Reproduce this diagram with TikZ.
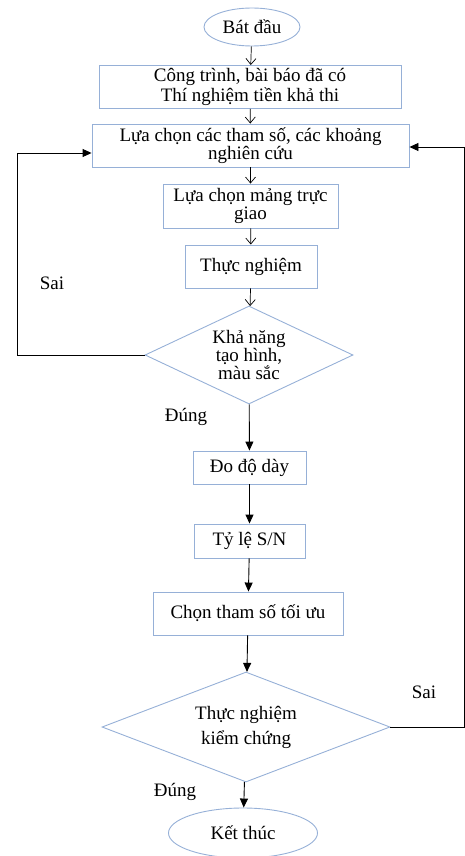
\documentclass[tikz,border=0pt]{standalone}
\usepackage{fontspec}
\setmainfont{Liberation Serif}
\usetikzlibrary{arrows.meta,positioning,shapes.geometric}
\definecolor{boxblue}{RGB}{150,176,215}

\begin{document}
\begin{tikzpicture}[
  x=1pt, y=-1pt,
  every node/.style={font=\fontsize{19}{18}\selectfont, align=center},
  box/.style={draw=boxblue, line width=0.9pt, fill=white, inner sep=2pt},
  term/.style={draw=boxblue, line width=0.9pt, ellipse, inner sep=0pt},
  test/.style={draw=boxblue, line width=0.9pt, diamond, inner sep=0pt},
  open/.style={-{Straight Barb[length=6pt,width=10pt]}, line width=0.7pt},
  solid/.style={-{Triangle[length=9pt,width=8pt]}, line width=0.9pt},
  >=Stealth
]
\useasboundingbox (0,0) rectangle (465,856);
\node[term, minimum width=96pt, minimum height=38pt] (start) at (252,27) {Bát đầu};
\node[box, minimum width=302pt, minimum height=43pt, font=\fontsize{19}{20}\selectfont] (lit) at (250,87) {Công trình, bài báo đã có\\Thí nghiệm tiền khả thi};
\node[box, minimum width=317pt, minimum height=43pt] (param) at (250.5,145.5) {Lựa chọn các tham số, các khoảng\\nghiên cứu};
\node[box, minimum width=175pt, minimum height=44pt] (array) at (250.5,206) {Lựa chọn mảng trực\\giao};
\node[box, minimum width=132pt, minimum height=43pt] (exp) at (251,266.5) {Thực nghiệm};
\node[test, minimum width=208pt, minimum height=98pt, aspect=2.1] (shape) at (249,355) {Khả năng\\tạo hình,\\màu sắc};
\node[box, minimum width=113pt, minimum height=33pt] (thick) at (249.5,467.5) {Đo độ dày};
\node[box, minimum width=111pt, minimum height=34pt] (ratio) at (249.5,541) {Tỷ lệ S/N};
\node[box, minimum width=190pt, minimum height=43pt] (optim) at (248,613.5) {Chọn tham số tối ưu};
\node[test, minimum width=288pt, minimum height=110pt, aspect=2.6, font=\fontsize{19}{25}\selectfont] (verify) at (246,727) {Thực nghiệm\\kiểm chứng};
\node[term, minimum width=149pt, minimum height=50pt] (stop) at (243,833) {Kết thúc};

% nhan
\node (no1) at (52,283) {Sai};
\node (yes1) at (186,417) {Đúng};
\node (no2) at (424,692) {Sai};
\node (yes2) at (175,792) {Đúng};

% vong lap
\coordinate (lp) at (17,153);
\coordinate (rp) at (464,147);

\draw[open] (start) -- (lit);
\draw[open] (lit) -- (param);
\draw[open] (param) -- (array);
\draw[open] (array) -- (exp);
\draw[open] (exp) -- (shape);
\draw[solid] (shape) -- (thick);
\draw[solid] (thick) -- (ratio);
\draw[solid] (ratio) -- (optim);
\draw[solid] (optim) -- (verify);
\draw[solid] (verify) -- (stop);
\draw[solid] (shape.west) -| (lp) -- (param.west |- lp);
\draw[solid] (verify.east) -| (rp) -- (param.east |- rp);
\end{tikzpicture}
\end{document}
